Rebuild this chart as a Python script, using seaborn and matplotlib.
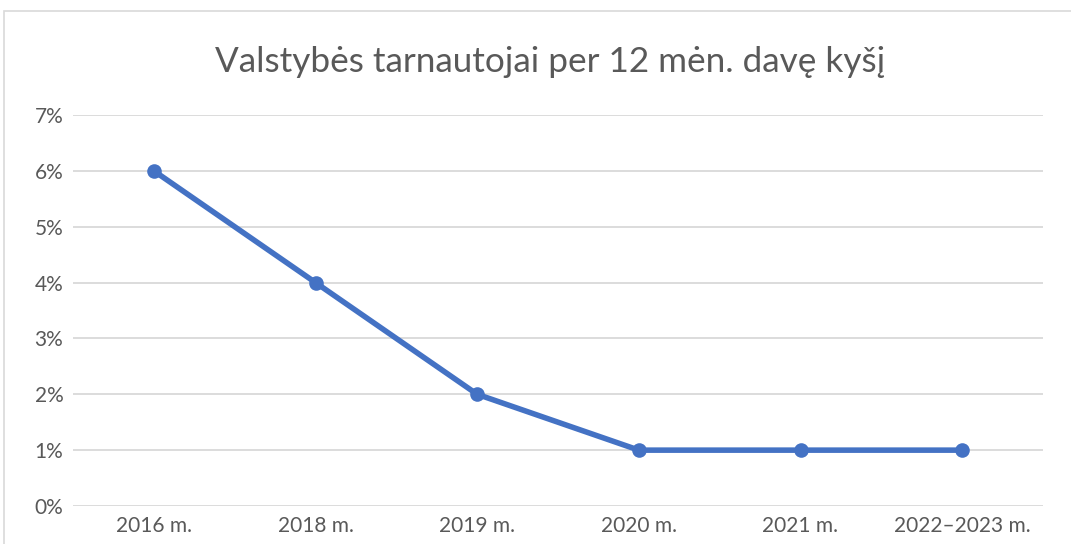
import matplotlib
matplotlib.use("Agg")
import matplotlib.pyplot as plt
import seaborn as sns
import pandas as pd
from matplotlib.patches import Rectangle
from matplotlib.ticker import FuncFormatter

categories = ["2016 m.", "2018 m.", "2019 m.", "2020 m.", "2021 m.", "2022–2023 m."]
values = [6, 4, 2, 1, 1, 1]
title = "Valstybės tarnautojai per 12 mėn. davę kyšį"

sns.set_theme(style="white")
plt.rcParams['font.family'] = ['Lato', 'DejaVu Sans']

df = pd.DataFrame({"cat": categories, "val": values})

fig = plt.figure(figsize=(10.71, 5.44), dpi=100)
ax = fig.add_axes([73/1071, 38/544, (1043-73)/1071, (506-115)/544])

sns.lineplot(data=df, x="cat", y="val", ax=ax, color="#4472C4", linewidth=4.0,
             marker="o", markersize=10.5, markeredgewidth=0, sort=False)

ax.set_xlim(-0.5, len(categories) - 0.5)
ax.set_ylim(0, 7)
ax.set_yticks(range(0, 8))
ax.yaxis.set_major_formatter(FuncFormatter(lambda v, p: f"{int(v)}%"))
ax.grid(axis="y", color="#D9D9D9", linewidth=1.3)
ax.grid(axis="x", visible=False)
ax.set_axisbelow(True)
for s in ax.spines.values():
    s.set_visible(False)
ax.set_xlabel("")
ax.set_ylabel("")
ax.tick_params(axis="both", length=0, labelsize=15, labelcolor="#595959")
ax.tick_params(axis="y", pad=7)
ax.tick_params(axis="x", pad=7)

fig.text(550/1071, 1 - 62/544, title, ha="center", va="center", fontsize=25.3, color="#595959")

fig.patches.append(Rectangle((4/1071, -0.05), 1.1, 1 - 10.5/544 + 0.05, transform=fig.transFigure,
                             fill=False, edgecolor="#D9D9D9", linewidth=1.2, zorder=0))

fig.savefig("out.png", dpi=100)
